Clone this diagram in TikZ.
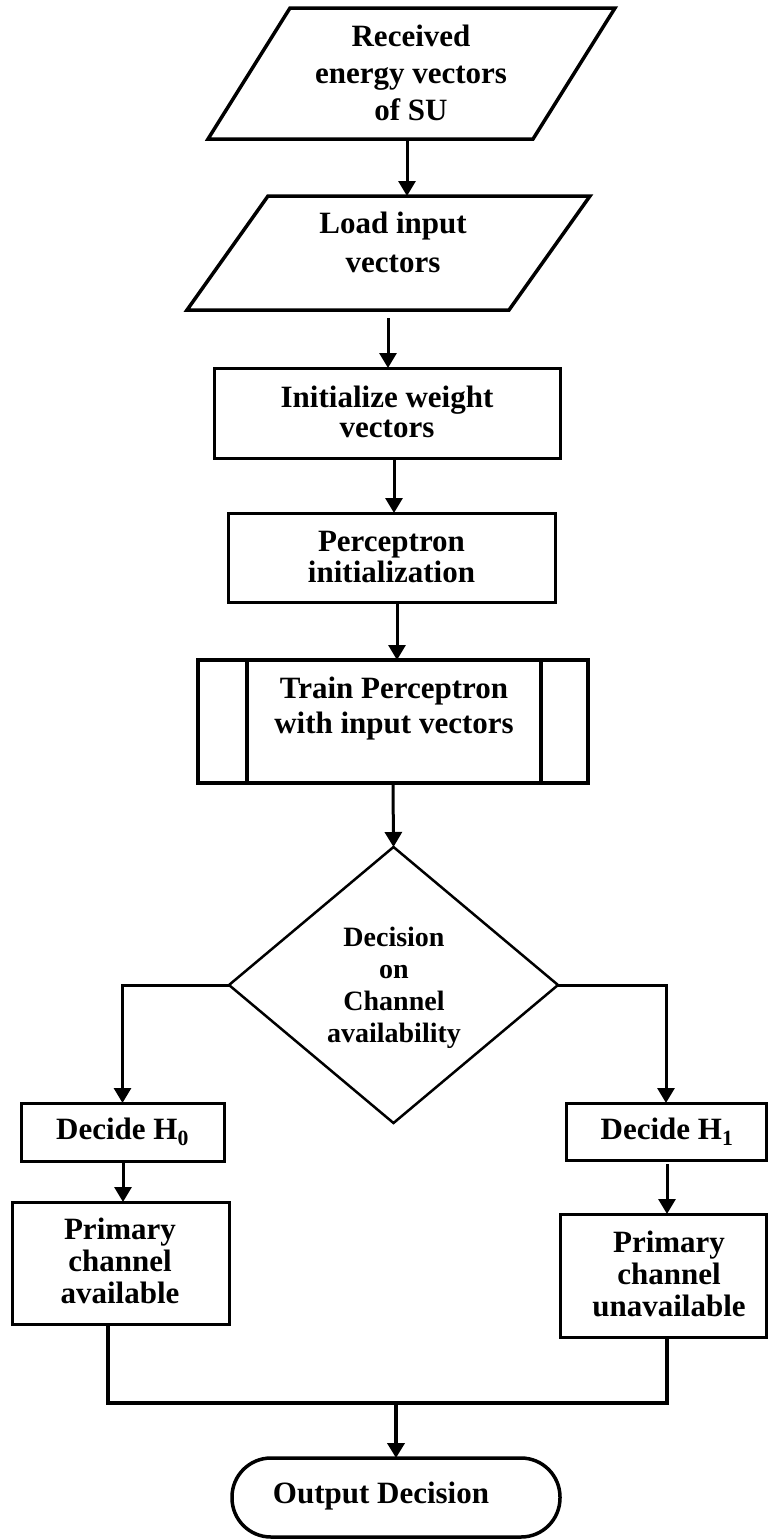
\documentclass[tikz,border=0pt]{standalone}
\usepackage{fontspec}
\setmainfont{Liberation Serif}
\usetikzlibrary{arrows.meta,calc}
\begin{document}
\begin{tikzpicture}[x=1pt,y=-1pt,
  every node/.style={inner sep=0pt,outer sep=0pt},
  ghost/.style={rectangle},
  frame/.style={draw,rectangle,line width=3pt},
  para/.style={draw,line width=3.5pt,line join=miter},
  diam/.style={draw,line width=2.5pt,line join=miter},
  txt/.style={align=center,font=\fontsize{31}{#1}\selectfont\bfseries},
  txt/.default=31,
  arr/.style={line width=3pt,-{Triangle[width=17pt,length=15pt]}},
  merge/.style={line width=4.5pt}]

\useasboundingbox (0,0) rectangle (768,1540);

% input parallelograms
\node[ghost,minimum width=407pt,minimum height=131pt] (in1) at (411.5,73.5) {};
\draw[para] ([xshift=82pt]in1.north west) -- (in1.north east)
  -- ([xshift=-82pt]in1.south east) -- (in1.south west) -- cycle;
\node[txt=37] (in1-t) at (411,73) {Received\\energy vectors\\of SU};

\node[ghost,minimum width=403pt,minimum height=114pt] (in2) at (388.5,253) {};
\draw[para] ([xshift=81pt]in2.north west) -- (in2.north east)
  -- ([xshift=-81pt]in2.south east) -- (in2.south west) -- cycle;
\node[txt=39] (in2-t) at (393,242) {Load input\\vectors};

% process boxes
\node[frame,minimum width=346pt,minimum height=90pt] (init) at (387,413) {};
\node[txt=30] (init-t) at (387,411.5) {Initialize weight\\vectors};

\node[frame,minimum width=327pt,minimum height=89pt] (perc) at (391.5,557.5) {};
\node[txt=31] (perc-t) at (391.5,557) {Perceptron\\initialization};

% predefined process
\node[frame,line width=3.5pt,minimum width=390pt,minimum height=123pt] (train) at (393,721.5) {};
\draw[line width=3.5pt] ([xshift=49pt]train.north west) -- ([xshift=49pt]train.south west);
\draw[line width=3.5pt] ([xshift=-47pt]train.north east) -- ([xshift=-47pt]train.south east);
\node[txt=35] (train-t) at (394,708.5) {Train Perceptron\\with input vectors};

% decision
\node[ghost,minimum width=329pt,minimum height=276pt] (dec) at (393.5,985) {};
\draw[diam] (dec.north) -- (dec.east) -- (dec.south) -- (dec.west) -- cycle;
\node[align=center,font=\fontsize{28}{32}\selectfont\bfseries] (dec-t) at (394,988)
  {Decision\\on\\Channel\\availability};

% branches
\node[frame,minimum width=203pt,minimum height=58pt] (h0) at (122.5,1132) {};
\node[txt] (h0-t) at (122.5,1131.5) {Decide H\textsubscript{0}};
\node[frame,minimum width=200pt,minimum height=57pt] (h1) at (666,1131.5) {};
\node[txt] (h1-t) at (667,1131.5) {Decide H\textsubscript{1}};

\node[frame,minimum width=217pt,minimum height=122pt] (p0) at (120.5,1263) {};
\node[txt=32] (p0-t) at (120,1260.5) {Primary\\channel\\available};
\node[frame,minimum width=206pt,minimum height=123pt] (p1) at (663,1275.5) {};
\node[txt=32] (p1-t) at (669,1273.5) {Primary\\channel\\unavailable};

% terminator
\node[draw,line width=3.5pt,rounded corners=39pt,minimum width=328pt,minimum height=79pt] (out) at (396,1497.5) {};
\node[txt] (out-t) at (381,1496) {Output Decision};

% connectors
\draw[arr] ([xshift=-4.5pt]in1.south) -- ([xshift=-4.5pt]in1.south |- in2.north);
\draw[arr] ([xshift=-0.5pt,yshift=-8pt]in2.south) -- ([xshift=-0.5pt]in2.south |- init.north);
\draw[arr] ([xshift=7pt]init.south) -- ([xshift=7pt]init.south |- perc.north);
\draw[arr] ([xshift=5.5pt]perc.south) -- ([xshift=5.5pt]perc.south |- train.north);
\draw[arr] (train.south) -- (dec.north);
\draw[arr] (dec.west) -| (h0.north);
\draw[arr] (dec.east) -| (h1.north);
\draw[arr] ([xshift=0.5pt]h0.south) -- ([xshift=0.5pt]h0.south |- p0.north);
\draw[arr] ([xshift=1pt,yshift=-4pt]h1.south) -- ([xshift=1pt]h1.south |- p1.north);

\coordinate (ml) at (108,1403);
\coordinate (mr) at (667,1403);
\draw[merge] (p0.south -| ml) -- (ml) -- (mr) -- (p1.south -| mr);
\draw[arr,line width=4pt] (out.north |- ml) -- (out.north);
\end{tikzpicture}
\end{document}
